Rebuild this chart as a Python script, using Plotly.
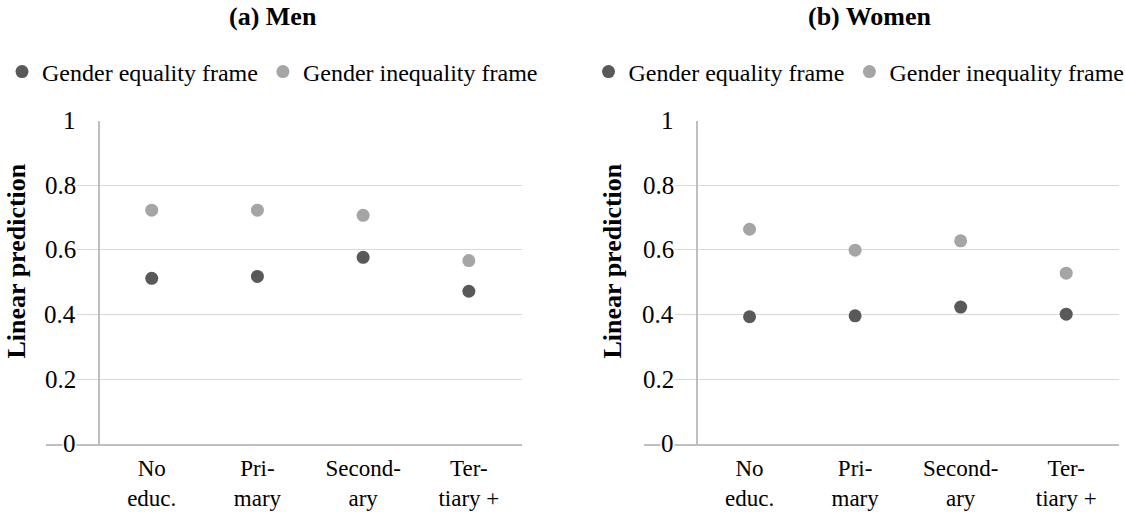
import plotly.graph_objects as go

categories = ["No<br>educ.", "Pri-<br>mary", "Second-<br>ary", "Ter-<br>tiary +"]
y_ticks = [0, 0.2, 0.4, 0.6, 0.8, 1]
y_tick_text = ["0", "0.2", "0.4", "0.6", "0.8", "1"]

men_equality = [0.512, 0.518, 0.577, 0.472]
men_inequality = [0.723, 0.723, 0.707, 0.567]
women_equality = [0.393, 0.396, 0.423, 0.401]
women_inequality = [0.664, 0.599, 0.628, 0.528]

series_names = ["Gender equality frame", "Gender inequality frame"]
panel_titles = ["<b>(a) Men</b>", "<b>(b) Women</b>"]
y_title = "<b>Linear prediction</b>"

DARK = "#595959"
LIGHT = "#a5a5a5"
GRID = "#d9d9d9"
AXIS = "#bfbfbf"
FONT = "Liberation Serif"

W, H = 1125, 512
xpos = list(range(len(categories)))

fig = go.Figure()

panels = [
    dict(xa="x", ya="y", leg="legend", eq=men_equality, ineq=men_inequality),
    dict(xa="x2", ya="y2", leg="legend2", eq=women_equality, ineq=women_inequality),
]
for p in panels:
    fig.add_trace(go.Scatter(x=xpos, y=p["eq"], mode="markers", name=series_names[0],
                             marker=dict(color=DARK, size=13), xaxis=p["xa"], yaxis=p["ya"],
                             legend=p["leg"]))
    fig.add_trace(go.Scatter(x=xpos, y=p["ineq"], mode="markers", name=series_names[1],
                             marker=dict(color=LIGHT, size=13), xaxis=p["xa"], yaxis=p["ya"],
                             legend=p["leg"]))

# pixel layout
left_dom = [46 / W, 521.7 / W]
right_dom = [644 / W, 1119 / W]
y_dom = [(H - 443.7) / H, (H - 120.7) / H]
xr = [-1, 3.5]

def yaxis_pos(dom):
    return dom[0] + (dom[1] - dom[0]) * (-0.5 - xr[0]) / (xr[1] - xr[0])

xaxis_common = dict(range=xr, tickvals=xpos, ticktext=categories, showgrid=False, zeroline=False,
                    showline=True, linecolor=AXIS, linewidth=1.6, ticks="", ticklabelstandoff=3,
                    tickfont=dict(family=FONT, size=23, color="#000000"))
yaxis_common = dict(range=[0, 1], tickvals=y_ticks, showticklabels=False, showgrid=True,
                    gridcolor=GRID, gridwidth=1.3, zeroline=False, showline=True,
                    linecolor=AXIS, linewidth=1.6, ticks="", domain=y_dom, anchor="free")

fig.update_layout(
    xaxis=dict(domain=left_dom, anchor="y", **xaxis_common),
    xaxis2=dict(domain=right_dom, anchor="y2", **xaxis_common),
    yaxis=dict(position=yaxis_pos(left_dom), **yaxis_common),
    yaxis2=dict(position=yaxis_pos(right_dom), **yaxis_common),
)

annotations = []
for xa, dom in (("x", left_dom), ("x2", right_dom)):
    ya = "y" if xa == "x" else "y2"
    for v, t in zip(y_ticks, y_tick_text):
        annotations.append(dict(x=-0.5, y=v, xref=xa, yref=ya, text=t, showarrow=False,
                                xanchor="right", yanchor="middle", xshift=-22,
                                bgcolor="white", borderpad=0,
                                font=dict(family=FONT, size=25, color="#000000")))

for t, xc in zip(panel_titles, (273 / W, 870 / W)):
    annotations.append(dict(x=xc, y=(H - 16) / H, xref="paper", yref="paper", text=t,
                            showarrow=False, xanchor="center", yanchor="middle",
                            font=dict(family=FONT, size=26, color="#000000")))

for xc in (16 / W, 612 / W):
    annotations.append(dict(x=xc, y=(H - 261.5) / H, xref="paper", yref="paper", text=y_title,
                            showarrow=False, xanchor="center", yanchor="middle", textangle=-90,
                            font=dict(family=FONT, size=26, color="#000000")))

legend_common = dict(orientation="h", xanchor="center", yanchor="middle", y=(H - 72) / H,
                     font=dict(family=FONT, size=24, color="#000000"), bgcolor="rgba(0,0,0,0)",
                     itemwidth=30, traceorder="normal")

fig.update_layout(
    width=W, height=H,
    margin=dict(l=0, r=0, t=0, b=0, autoexpand=False),
    paper_bgcolor="white", plot_bgcolor="white",
    annotations=annotations,
    legend=dict(x=272.5 / W, **legend_common),
    legend2=dict(x=859 / W, **legend_common),
    showlegend=True,
)

fig.write_html("out.html", config={"displayModeBar": False},
               post_script="document.body.style.margin='0';document.body.style.padding='0';")
